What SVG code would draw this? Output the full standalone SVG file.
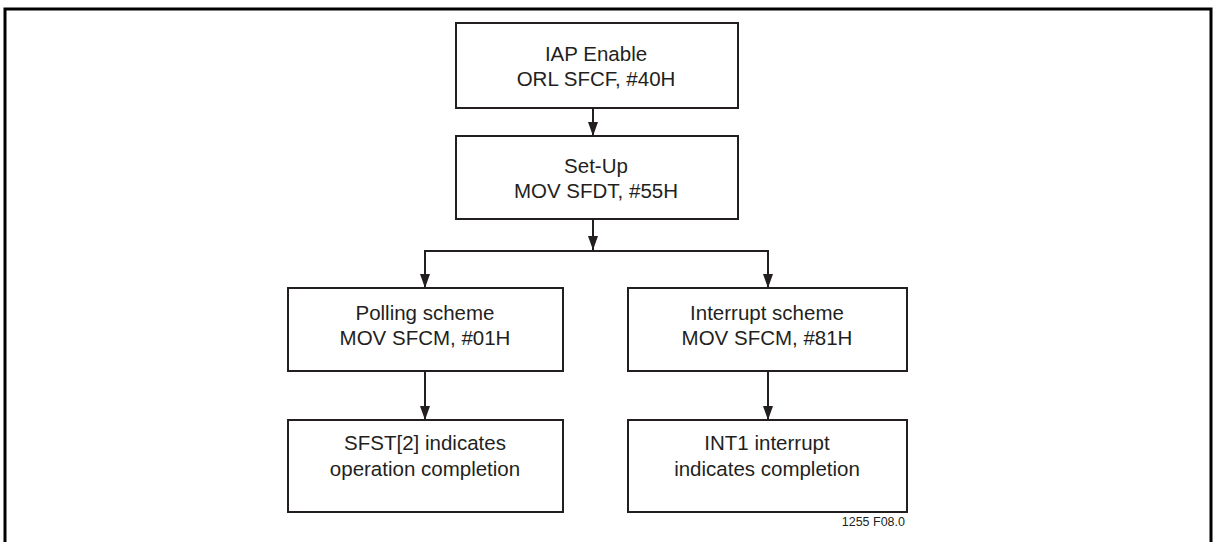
<svg xmlns="http://www.w3.org/2000/svg" width="1217" height="542" viewBox="0 0 1217 542">
<defs>
<style>
.box{fill:#fff;stroke:#231f20;stroke-width:2}
.t{font-family:"Liberation Sans",Arial,sans-serif;font-size:20.5px;fill:#231f20;text-anchor:middle}
.c{fill:none;stroke:#231f20;stroke-width:2}
.small{font-family:"Liberation Sans",Arial,sans-serif;font-size:12.5px;fill:#231f20;text-anchor:end}
</style>
<marker id="ah" markerWidth="14" markerHeight="10" refX="14" refY="5" orient="auto" markerUnits="userSpaceOnUse" viewBox="0 0 14 10">
<path d="M0,0 L14,5 L0,10 Z" fill="#231f20"/>
</marker>
</defs>
<rect width="1217" height="542" fill="#fff"/>
<path d="M5,550 V9 H1211 V550" fill="none" stroke="#000" stroke-width="3"/>
<g id="connectors">
<line class="c" x1="593" y1="108" x2="593" y2="136" marker-end="url(#ah)"/>
<line class="c" x1="593" y1="219" x2="593" y2="250" marker-end="url(#ah)"/>
<polyline class="c" points="425,288 425,251 768,251 768,288" marker-end="url(#ah)"/>
<line class="c" x1="425" y1="251" x2="425" y2="288" marker-end="url(#ah)"/>
<line class="c" x1="425" y1="371" x2="425" y2="420" marker-end="url(#ah)"/>
<line class="c" x1="768" y1="371" x2="768" y2="420" marker-end="url(#ah)"/>
</g>
<g id="n1"><rect class="box" x="456" y="23" width="282" height="85"/>
<text class="t" x="596" y="61">IAP Enable</text><text class="t" x="596" y="86">ORL SFCF, #40H</text></g>
<g id="n2"><rect class="box" x="456" y="136" width="282" height="83"/>
<text class="t" x="596" y="173">Set-Up</text><text class="t" x="596" y="198">MOV SFDT, #55H</text></g>
<g id="n3"><rect class="box" x="288" y="288" width="275" height="83"/>
<text class="t" x="425" y="320">Polling scheme</text><text class="t" x="425" y="345">MOV SFCM, #01H</text></g>
<g id="n4"><rect class="box" x="628" y="288" width="279" height="83"/>
<text class="t" x="767" y="320">Interrupt scheme</text><text class="t" x="767" y="345">MOV SFCM, #81H</text></g>
<g id="n5"><rect class="box" x="288" y="420" width="275" height="92"/>
<text class="t" x="425" y="450">SFST[2] indicates</text><text class="t" x="425" y="476">operation completion</text></g>
<g id="n6"><rect class="box" x="628" y="420" width="279" height="92"/>
<text class="t" x="767" y="450">INT1 interrupt</text><text class="t" x="767" y="476">indicates completion</text></g>
<text class="small" x="905" y="526">1255 F08.0</text>
</svg>
